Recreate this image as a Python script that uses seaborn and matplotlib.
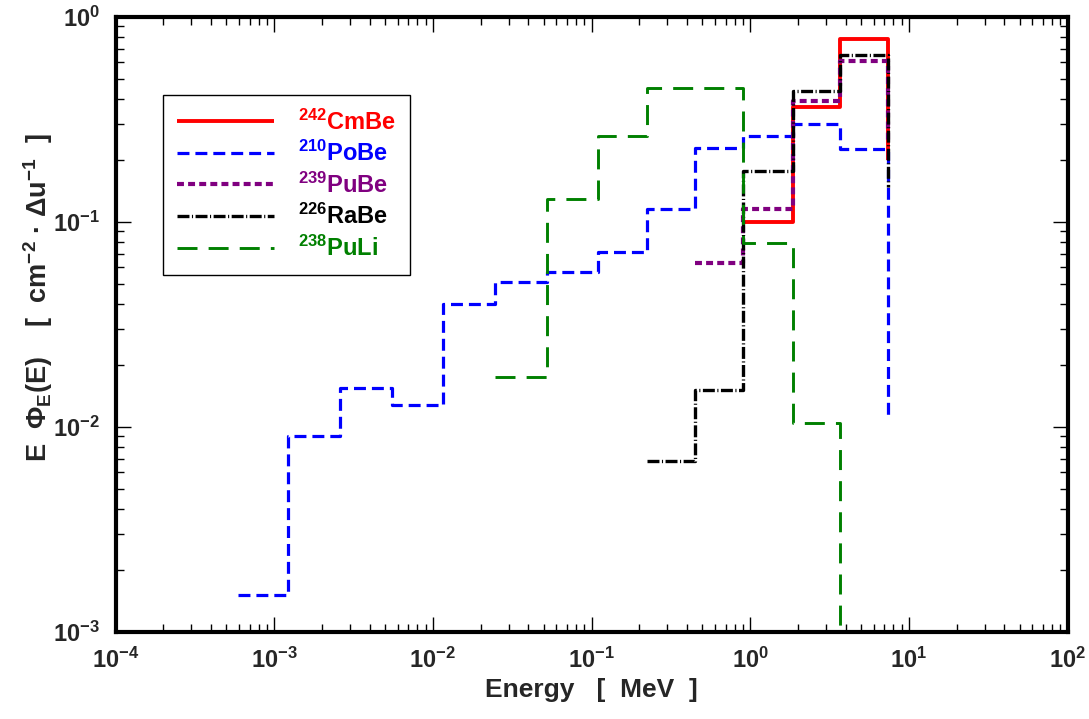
import numpy as np
import pandas as pd
import matplotlib
matplotlib.use("Agg")
import matplotlib.pyplot as plt
import seaborn as sns
from matplotlib.ticker import LogLocator, NullFormatter, FixedLocator

# ---------------- data ----------------
# bin edges in MeV (lethargy bins); last value in each y list is the end-point of the final drop
cmbe_E = [0.90, 1.86, 3.67, 7.38]
cmbe_y = [0.100, 0.364, 0.78, 0.20]

pobe_E = [5.9e-4, 1.22e-3, 2.60e-3, 5.52e-3, 1.16e-2, 2.46e-2, 5.24e-2, 0.110, 0.223, 0.449, 0.90, 1.86, 3.67, 7.38]
pobe_y = [1.51e-3, 9.0e-3, 1.55e-2, 1.28e-2, 3.98e-2, 5.1e-2, 5.7e-2, 7.14e-2, 0.116, 0.230, 0.263, 0.300, 0.227, 0.0111]

pube_E = [0.449, 0.90, 1.86, 3.67, 7.38]
pube_y = [0.063, 0.116, 0.389, 0.61, 0.25]

rabe_E = [0.223, 0.449, 0.90, 1.86, 3.67, 7.38]
rabe_y = [6.8e-3, 1.52e-2, 0.177, 0.435, 0.653, 0.148]

puli_E = [2.46e-2, 5.24e-2, 0.110, 0.223, 0.449, 0.90, 1.86, 3.67]
puli_y = [0.0176, 0.129, 0.263, 0.45, 0.45, 0.079, 0.0105, 1.0e-3]

series_names = ["CmBe", "PoBe", "PuBe", "RaBe", "PuLi"]
mass_numbers = ["242", "210", "239", "226", "238"]

x_ticks = [1e-4, 1e-3, 1e-2, 1e-1, 1e0, 1e1, 1e2]
x_ticklabels = [r"$\mathbf{10^{-4}}$", r"$\mathbf{10^{-3}}$", r"$\mathbf{10^{-2}}$", r"$\mathbf{10^{-1}}$",
                r"$\mathbf{10^{0}}$", r"$\mathbf{10^{1}}$", r"$\mathbf{10^{2}}$"]
y_ticks = [1e-3, 1e-2, 1e-1, 1e0]
y_ticklabels = [r"$\mathbf{10^{-3}}$", r"$\mathbf{10^{-2}}$", r"$\mathbf{10^{-1}}$", r"$\mathbf{10^{0}}$"]

# ---------------- style ----------------
sns.set_style("ticks")
plt.rcParams["font.family"] = ["Liberation Sans", "DejaVu Sans"]
plt.rcParams["font.weight"] = "bold"
plt.rcParams["mathtext.fontset"] = "custom"
plt.rcParams["mathtext.rm"] = "Liberation Sans:bold"
plt.rcParams["mathtext.bf"] = "Liberation Sans:bold"
plt.rcParams["mathtext.it"] = "Liberation Sans:bold"
plt.rcParams["lines.scale_dashes"] = False

fig = plt.figure(figsize=(10.89, 7.19), dpi=100)
ax = fig.add_axes([115.5 / 1089, 1 - 632 / 719, 952 / 1089, 615 / 719])

styles = {
    "CmBe": dict(color="#ff0000", lw=2.8, dashes=None),
    "PoBe": dict(color="#0000ff", lw=2.3, dashes=(8.6, 4.3)),
    "PuBe": dict(color="#800080", lw=3.0, dashes=(5.0, 3.0)),
    "RaBe": dict(color="#000000", lw=2.4, dashes=(8.6, 1.8, 0.8, 1.8)),
    "PuLi": dict(color="#008000", lw=2.1, dashes=(14.4, 8.0)),
}
data = {
    "CmBe": (cmbe_E, cmbe_y),
    "PoBe": (pobe_E, pobe_y),
    "PuBe": (pube_E, pube_y),
    "RaBe": (rabe_E, rabe_y),
    "PuLi": (puli_E, puli_y),
}

ax.set_xscale("log")
ax.set_yscale("log")

handles = []
for i, name in enumerate(series_names):
    E, y = data[name]
    df = pd.DataFrame({"E": E, "y": y})
    st = styles[name]
    sns.lineplot(data=df, x="E", y="y", ax=ax, color=st["color"], lw=st["lw"],
                 drawstyle="steps-post", estimator=None, sort=False, zorder=3 + i)
    line = ax.lines[-1]
    if st["dashes"] is not None:
        line.set_dashes(st["dashes"])
    line.set_solid_capstyle("butt")
    line.set_dash_capstyle("butt")
    line.set_label(r"$^{\mathbf{" + mass_numbers[i] + r"}}$" + name)
    handles.append(line)

ax.set_xlim(1e-4, 1e2)
ax.set_ylim(1e-3, 1e0)

# ticks
ax.xaxis.set_major_locator(FixedLocator(x_ticks))
ax.set_xticklabels(x_ticklabels)
ax.yaxis.set_major_locator(FixedLocator(y_ticks))
ax.set_yticklabels(y_ticklabels)
ax.xaxis.set_minor_locator(LogLocator(base=10, subs=np.arange(2, 10), numticks=20))
ax.yaxis.set_minor_locator(LogLocator(base=10, subs=np.arange(2, 10), numticks=20))
ax.xaxis.set_minor_formatter(NullFormatter())
ax.yaxis.set_minor_formatter(NullFormatter())
ax.tick_params(which="both", direction="in", top=True, right=True, color="black", width=1.0)
ax.tick_params(which="major", length=10.5)
ax.tick_params(which="minor", length=5.5)
ax.tick_params(axis="x", which="major", labelsize=17, pad=11)
ax.tick_params(axis="y", which="major", labelsize=17, pad=11)

for sp in ax.spines.values():
    sp.set_linewidth(3.0)
    sp.set_color("black")
    sp.set_visible(True)

ax.set_xlabel("")
ax.set_ylabel("")

# axis titles
fig.text(591 / 1089, 1 - 690 / 719, "Energy   [  MeV  ]", ha="center", va="center",
         fontsize=19, fontweight="bold")
fig.text(38 / 1089, 1 - 298 / 719,
         r"E  Φ$_{\mathbf{E}}$(E)    [  cm$^{\mathbf{-2}}$ · Δu$^{\mathbf{-1}}$  ]",
         ha="center", va="center", rotation=90, fontsize=19.5, fontweight="bold")

leg = ax.legend(handles=handles, loc="upper left", bbox_to_anchor=(0.05, 0.873),
                fontsize=17, frameon=True, fancybox=False, handlelength=4.1,
                handletextpad=1.0, labelspacing=0.27, borderpad=0.6, borderaxespad=0,
                labelcolor="linecolor")
leg.get_frame().set_edgecolor("black")
leg.get_frame().set_linewidth(1.0)
leg.get_frame().set_alpha(1)
for t in leg.get_texts():
    t.set_fontweight("bold")

fig.savefig("out.png", dpi=100)
